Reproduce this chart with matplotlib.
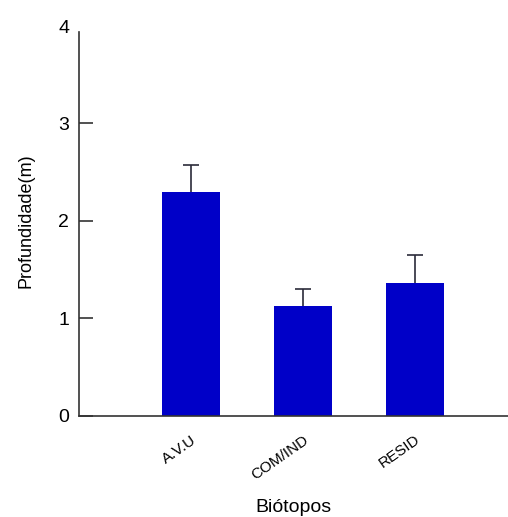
import matplotlib
matplotlib.use("Agg")
import matplotlib.pyplot as plt

plt.rcParams['font.family'] = ['Liberation Sans', 'DejaVu Sans']

biotopos = ["A.V.U", "COM/IND", "RESID"]
profundidade = [2.30, 1.13, 1.36]
erro = [0.27, 0.17, 0.29]
yticks = [0, 1, 2, 3, 4]

fig = plt.figure(figsize=(5.08, 5.17), dpi=100)
ax = fig.add_axes([0.1555, 0.1954, 0.8445, 0.7543])

pos = list(range(len(biotopos)))
ax.bar(pos, profundidade, width=0.51, color='#0000c8', zorder=2)
# lower half of the error bar sits behind the bar, so only the upper whisker shows
ax.errorbar(pos, profundidade, yerr=erro, fmt='none',
            ecolor='#2b2b3a', elinewidth=1.2, capsize=6, capthick=1.2, zorder=1)

ax.set_xlim(-1.0, 2.83)
ax.set_ylim(0, 4)
ax.set_yticks(yticks)
ax.set_xticks(pos)
ax.set_xticklabels(biotopos, rotation=35, ha='right', rotation_mode='anchor', fontsize=11)

for s in ['top', 'right']:
    ax.spines[s].set_visible(False)
for s in ['left', 'bottom']:
    ax.spines[s].set_color('#333333')
    ax.spines[s].set_linewidth(1.2)
ax.spines['left'].set_bounds(0, 3.94)

ax.tick_params(axis='y', direction='in', length=10, width=1.2, color='#333333',
               labelsize=14, pad=7)
ax.tick_params(axis='x', length=0, pad=12)
ax.yaxis.get_major_ticks()[-1].tick1line.set_visible(False)

ax.set_ylabel("Profundidade(m)", fontsize=13, labelpad=17)
ax.set_xlabel("Biótopos", fontsize=14, labelpad=12)

fig.savefig("out.png", dpi=100)
